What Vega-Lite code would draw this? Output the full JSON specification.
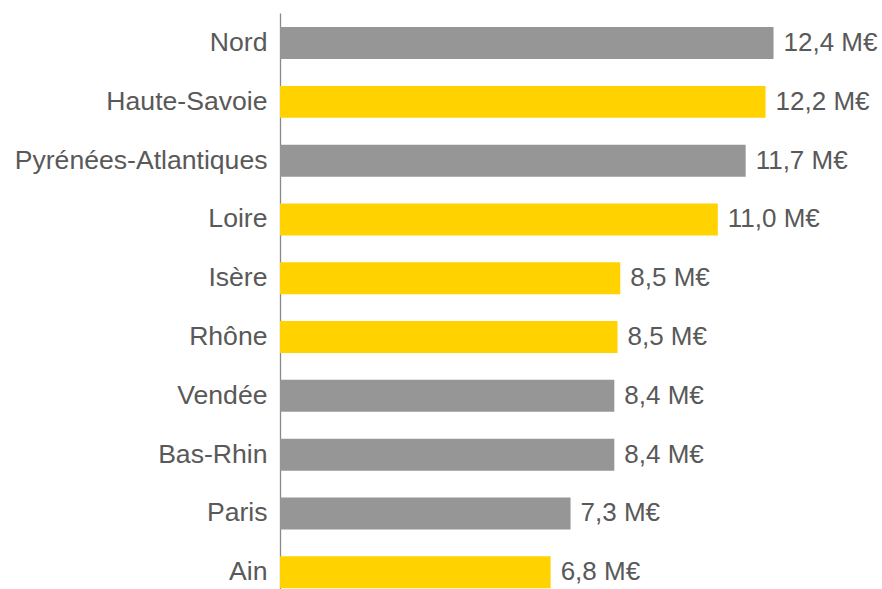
{
  "$schema": "https://vega.github.io/schema/vega-lite/v6.json",
  "width": 597,
  "height": 576,
  "autosize": "none",
  "padding": {"left": 280, "top": 13, "right": 5, "bottom": 0},
  "background": "white",
  "config": {"view": {"stroke": null}},
  "data": {
    "values": [
      {"dept": "Nord", "value": 12.4, "label": "12,4 M€", "group": "gris"},
      {"dept": "Haute-Savoie", "value": 12.2, "label": "12,2 M€", "group": "jaune"},
      {"dept": "Pyrénées-Atlantiques", "value": 11.7, "label": "11,7 M€", "group": "gris"},
      {"dept": "Loire", "value": 11.0, "label": "11,0 M€", "group": "jaune"},
      {"dept": "Isère", "value": 8.55, "label": "8,5 M€", "group": "jaune"},
      {"dept": "Rhône", "value": 8.48, "label": "8,5 M€", "group": "jaune"},
      {"dept": "Vendée", "value": 8.4, "label": "8,4 M€", "group": "gris"},
      {"dept": "Bas-Rhin", "value": 8.4, "label": "8,4 M€", "group": "gris"},
      {"dept": "Paris", "value": 7.3, "label": "7,3 M€", "group": "gris"},
      {"dept": "Ain", "value": 6.8, "label": "6,8 M€", "group": "jaune"}
    ]
  },
  "encoding": {
    "y": {
      "field": "dept",
      "type": "nominal",
      "sort": null,
      "scale": {"paddingInner": 0.456, "paddingOuter": 0.126, "align": 0.95},
      "axis": {
        "title": null,
        "ticks": false,
        "tickSize": 0,
        "grid": false,
        "labelFont": "Liberation Sans",
        "labelFontSize": 26.6,
        "labelLimit": 400,
        "labelColor": "#595959",
        "labelPadding": 13,
        "domainColor": "#898989",
        "domainWidth": 1.3
      }
    },
    "x": {
      "field": "value",
      "type": "quantitative",
      "scale": {"domain": [0, 15]},
      "axis": null
    }
  },
  "layer": [
    {
      "mark": {"type": "bar"},
      "encoding": {
        "color": {
          "field": "group",
          "type": "nominal",
          "scale": {"domain": ["gris", "jaune"], "range": ["#969696", "#FFD200"]},
          "legend": null
        }
      }
    },
    {
      "mark": {
        "type": "text",
        "align": "left",
        "baseline": "middle",
        "dx": 10,
        "font": "Liberation Sans",
        "fontSize": 26,
        "color": "#595959"
      },
      "encoding": {"text": {"field": "label"}}
    }
  ]
}
